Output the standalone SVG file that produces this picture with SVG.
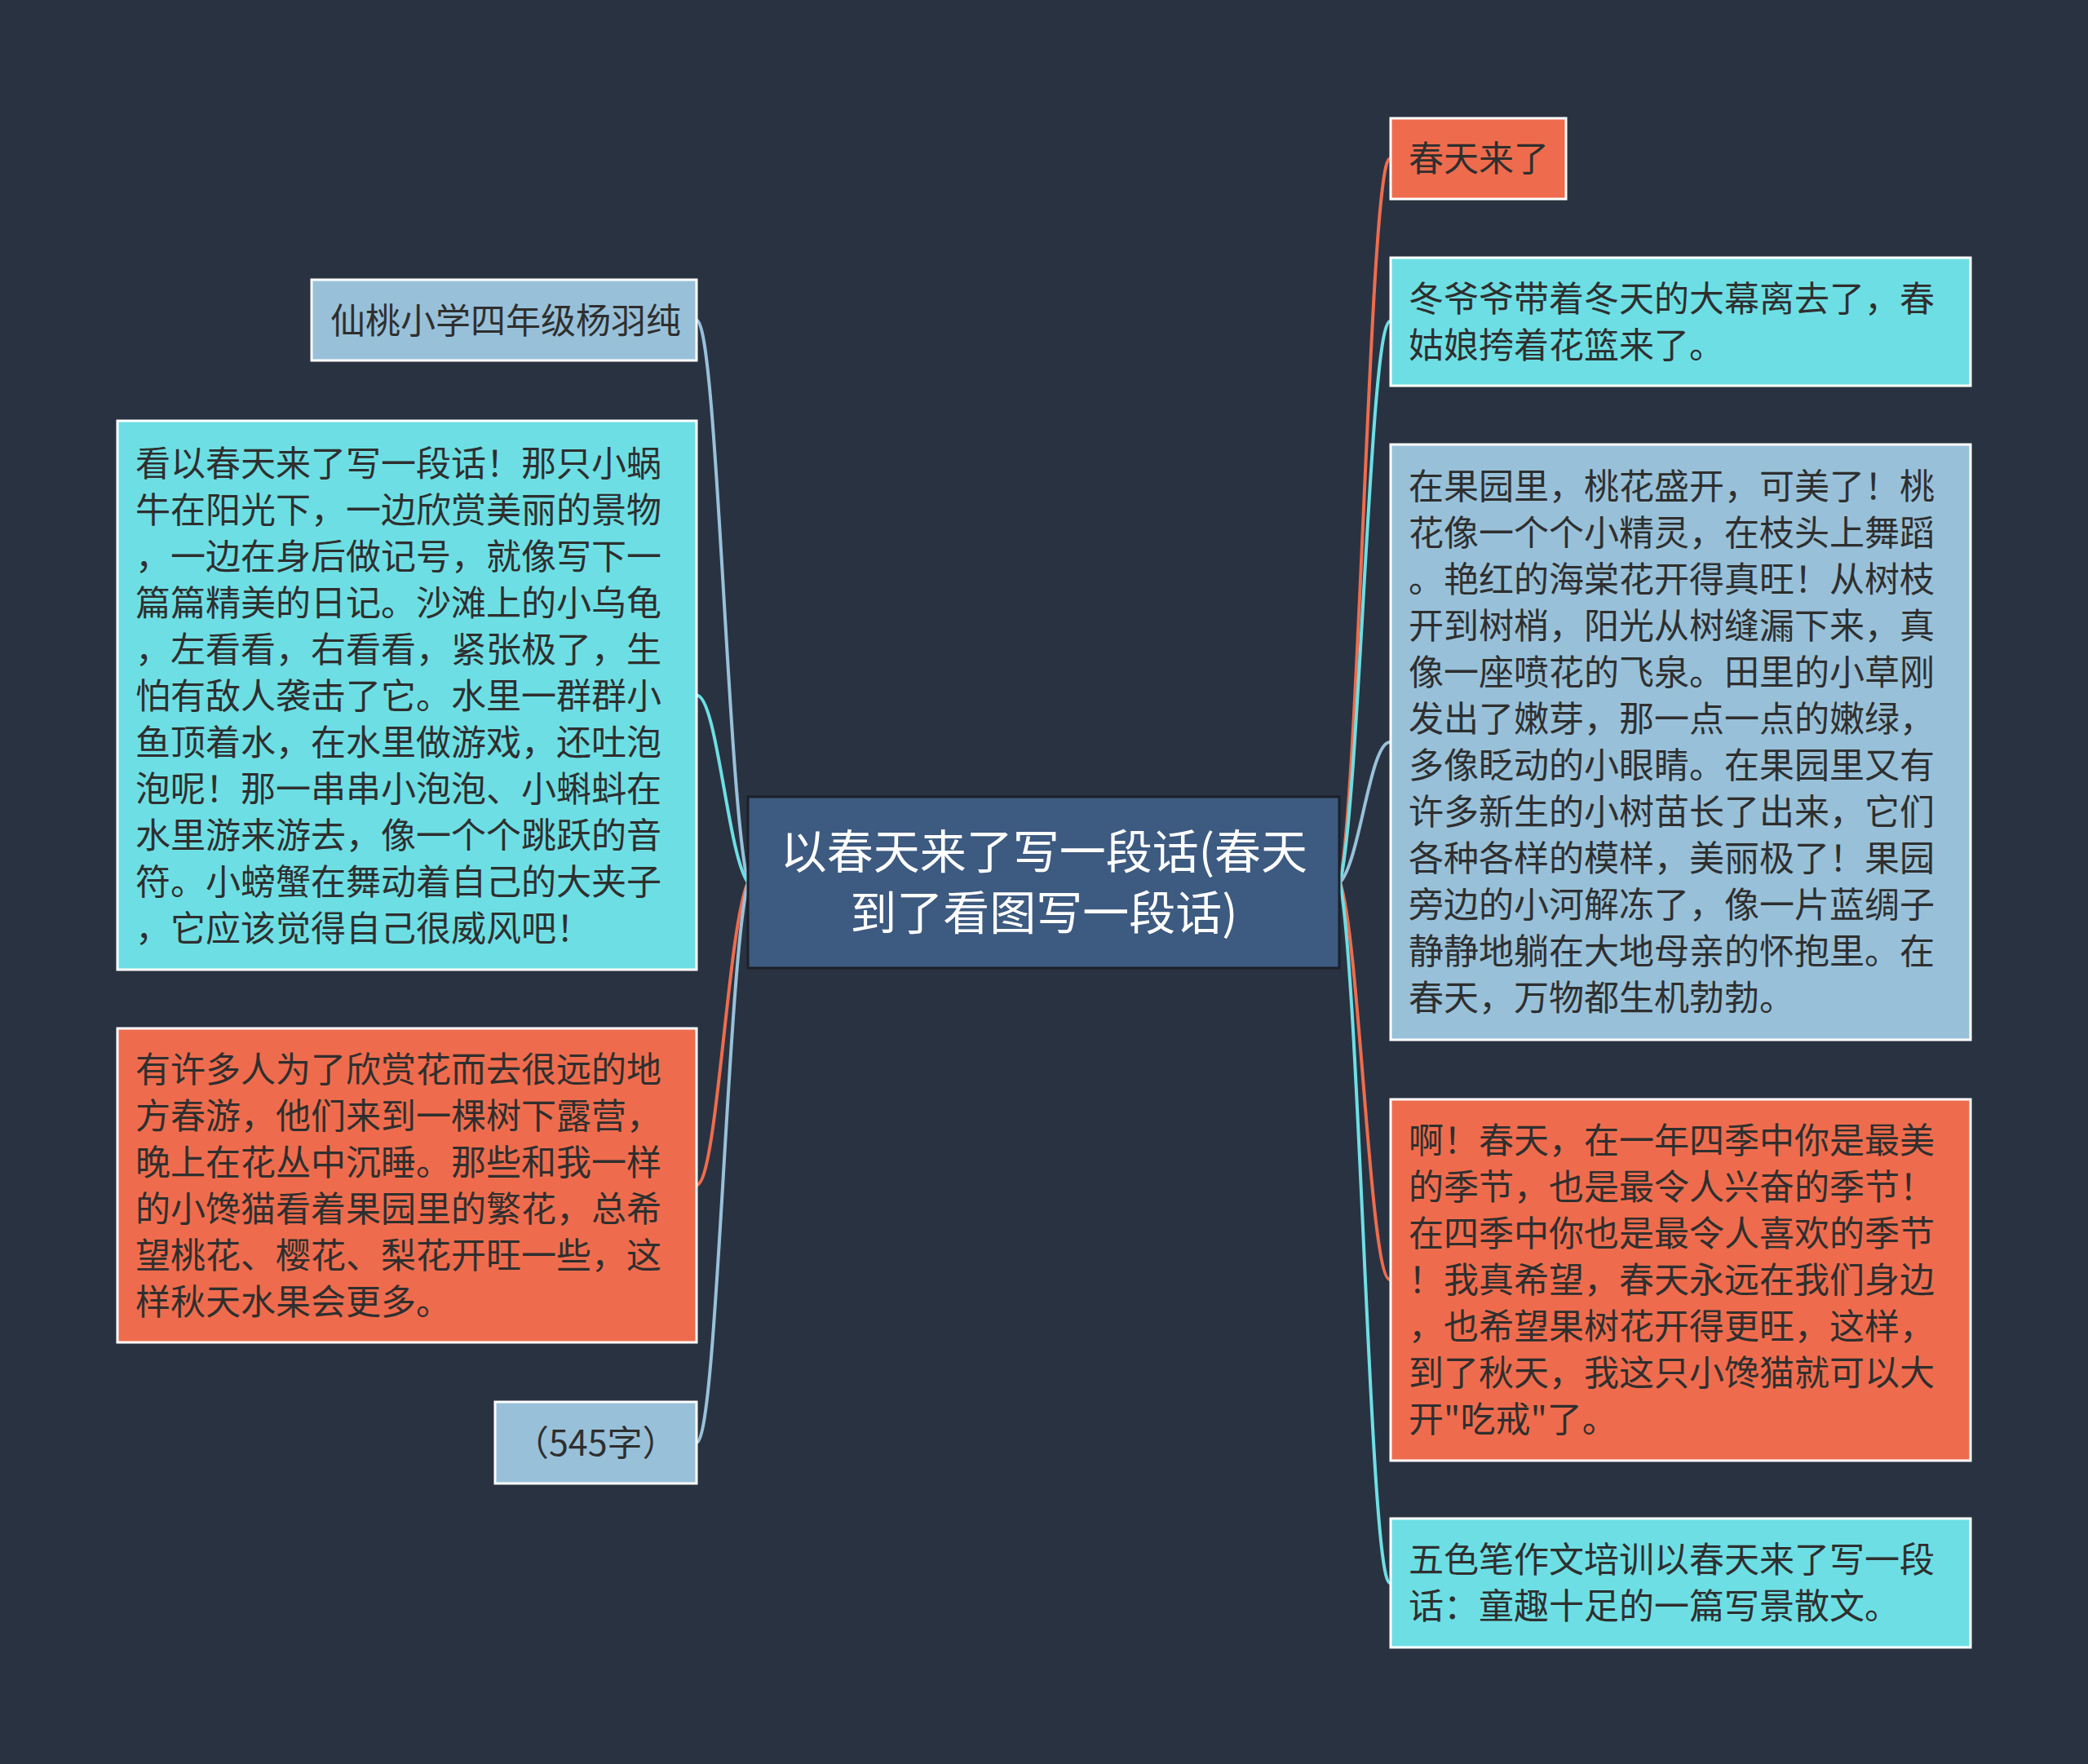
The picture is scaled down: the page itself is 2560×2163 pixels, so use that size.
<svg xmlns="http://www.w3.org/2000/svg" width="2560" height="2163" viewBox="0 0 2560 2163">
<style>
.t{font-family:"Noto Sans CJK SC","Noto Sans",sans-serif;font-size:43px;fill:#2f2f2f}
.c{font-family:"Noto Sans CJK SC","Noto Sans",sans-serif;font-size:57px;fill:#ffffff;text-anchor:middle}
.n{stroke:#ffffff;stroke-width:3}
.or{fill:#ee6c4d}.cy{fill:#6ddfe4}.lb{fill:#98c1d9}
.l{fill:none;stroke-width:4;stroke-linecap:round}
</style>
<rect x="0" y="0" width="2560" height="2163" fill="#293241"/>
<g id="connectors">
<path class="l" stroke="#ee6c4d" d="M1643 1082 C1667.4 948.9 1679.6 194.5 1704 194.5"/>
<path class="l" stroke="#6ddfe4" d="M1643 1082 C1667.4 978.8 1679.6 394 1704 394"/>
<path class="l" stroke="#98c1d9" d="M1643 1082 C1667.4 1056.2 1679.6 910 1704 910"/>
<path class="l" stroke="#ee6c4d" d="M1643 1082 C1667.4 1155 1679.6 1569 1704 1569"/>
<path class="l" stroke="#6ddfe4" d="M1643 1082 C1667.4 1210.9 1679.6 1941 1704 1941"/>
<path class="l" stroke="#98c1d9" d="M917 1082 C891.8 978.6 879.2 392.5 854 392.5"/>
<path class="l" stroke="#6ddfe4" d="M917 1082 C891.8 1047.6 879.2 852.5 854 852.5"/>
<path class="l" stroke="#ee6c4d" d="M917 1082 C891.8 1137.7 879.2 1453 854 1453"/>
<path class="l" stroke="#98c1d9" d="M917 1082 C891.8 1185 879.2 1769 854 1769"/>
</g>
<g id="center">
<rect x="917" y="977" width="725" height="210" fill="#3d5a80" stroke="#1b2029" stroke-width="3"/>
<text class="c" x="1280" y="1065">以春天来了写一段话(春天</text>
<text class="c" x="1280" y="1140">到了看图写一段话)</text>
</g>
<g id="r1">
<rect class="n or" x="1705" y="145" width="215" height="99"/>
<text class="t" x="1727" y="210">春天来了</text>
</g>
<g id="r2">
<rect class="n cy" x="1705" y="316" width="711" height="157"/>
<text class="t" x="1727" y="382"><tspan x="1727">冬爷爷带着冬天的大幕离去了，春</tspan><tspan x="1727" dy="57">姑娘挎着花篮来了。</tspan></text>
</g>
<g id="r3">
<rect class="n lb" x="1705" y="545" width="711" height="730"/>
<text class="t" x="1727" y="612"><tspan x="1727">在果园里，桃花盛开，可美了！桃</tspan><tspan x="1727" dy="57">花像一个个小精灵，在枝头上舞蹈</tspan><tspan x="1727" dy="57">。艳红的海棠花开得真旺！从树枝</tspan><tspan x="1727" dy="57">开到树梢，阳光从树缝漏下来，真</tspan><tspan x="1727" dy="57">像一座喷花的飞泉。田里的小草刚</tspan><tspan x="1727" dy="57">发出了嫩芽，那一点一点的嫩绿，</tspan><tspan x="1727" dy="57">多像眨动的小眼睛。在果园里又有</tspan><tspan x="1727" dy="57">许多新生的小树苗长了出来，它们</tspan><tspan x="1727" dy="57">各种各样的模样，美丽极了！果园</tspan><tspan x="1727" dy="57">旁边的小河解冻了，像一片蓝绸子</tspan><tspan x="1727" dy="57">静静地躺在大地母亲的怀抱里。在</tspan><tspan x="1727" dy="57">春天，万物都生机勃勃。</tspan></text>
</g>
<g id="r4">
<rect class="n or" x="1705" y="1348" width="711" height="443"/>
<text class="t" x="1727" y="1414"><tspan x="1727">啊！春天，在一年四季中你是最美</tspan><tspan x="1727" dy="57">的季节，也是最令人兴奋的季节！</tspan><tspan x="1727" dy="57">在四季中你也是最令人喜欢的季节</tspan><tspan x="1727" dy="57">！我真希望，春天永远在我们身边</tspan><tspan x="1727" dy="57">，也希望果树花开得更旺，这样，</tspan><tspan x="1727" dy="57">到了秋天，我这只小馋猫就可以大</tspan><tspan x="1727" dy="57">开"吃戒"了。</tspan></text>
</g>
<g id="r5">
<rect class="n cy" x="1705" y="1862" width="711" height="158"/>
<text class="t" x="1727" y="1928"><tspan x="1727">五色笔作文培训以春天来了写一段</tspan><tspan x="1727" dy="57">话：童趣十足的一篇写景散文。</tspan></text>
</g>
<g id="l1">
<rect class="n lb" x="382" y="343" width="472" height="99"/>
<text class="t" x="405" y="409">仙桃小学四年级杨羽纯</text>
</g>
<g id="l2">
<rect class="n cy" x="144" y="516" width="710" height="673"/>
<text class="t" x="166" y="584"><tspan x="166">看以春天来了写一段话！那只小蜗</tspan><tspan x="166" dy="57">牛在阳光下，一边欣赏美丽的景物</tspan><tspan x="166" dy="57">，一边在身后做记号，就像写下一</tspan><tspan x="166" dy="57">篇篇精美的日记。沙滩上的小乌龟</tspan><tspan x="166" dy="57">，左看看，右看看，紧张极了，生</tspan><tspan x="166" dy="57">怕有敌人袭击了它。水里一群群小</tspan><tspan x="166" dy="57">鱼顶着水，在水里做游戏，还吐泡</tspan><tspan x="166" dy="57">泡呢！那一串串小泡泡、小蝌蚪在</tspan><tspan x="166" dy="57">水里游来游去，像一个个跳跃的音</tspan><tspan x="166" dy="57">符。小螃蟹在舞动着自己的大夹子</tspan><tspan x="166" dy="57">，它应该觉得自己很威风吧！</tspan></text>
</g>
<g id="l3">
<rect class="n or" x="144" y="1261" width="710" height="385"/>
<text class="t" x="166" y="1327"><tspan x="166">有许多人为了欣赏花而去很远的地</tspan><tspan x="166" dy="57">方春游，他们来到一棵树下露营，</tspan><tspan x="166" dy="57">晚上在花丛中沉睡。那些和我一样</tspan><tspan x="166" dy="57">的小馋猫看着果园里的繁花，总希</tspan><tspan x="166" dy="57">望桃花、樱花、梨花开旺一些，这</tspan><tspan x="166" dy="57">样秋天水果会更多。</tspan></text>
</g>
<g id="l4">
<rect class="n lb" x="607" y="1719" width="247" height="100"/>
<text class="t" x="630" y="1785">（545字）</text>
</g>
</svg>
